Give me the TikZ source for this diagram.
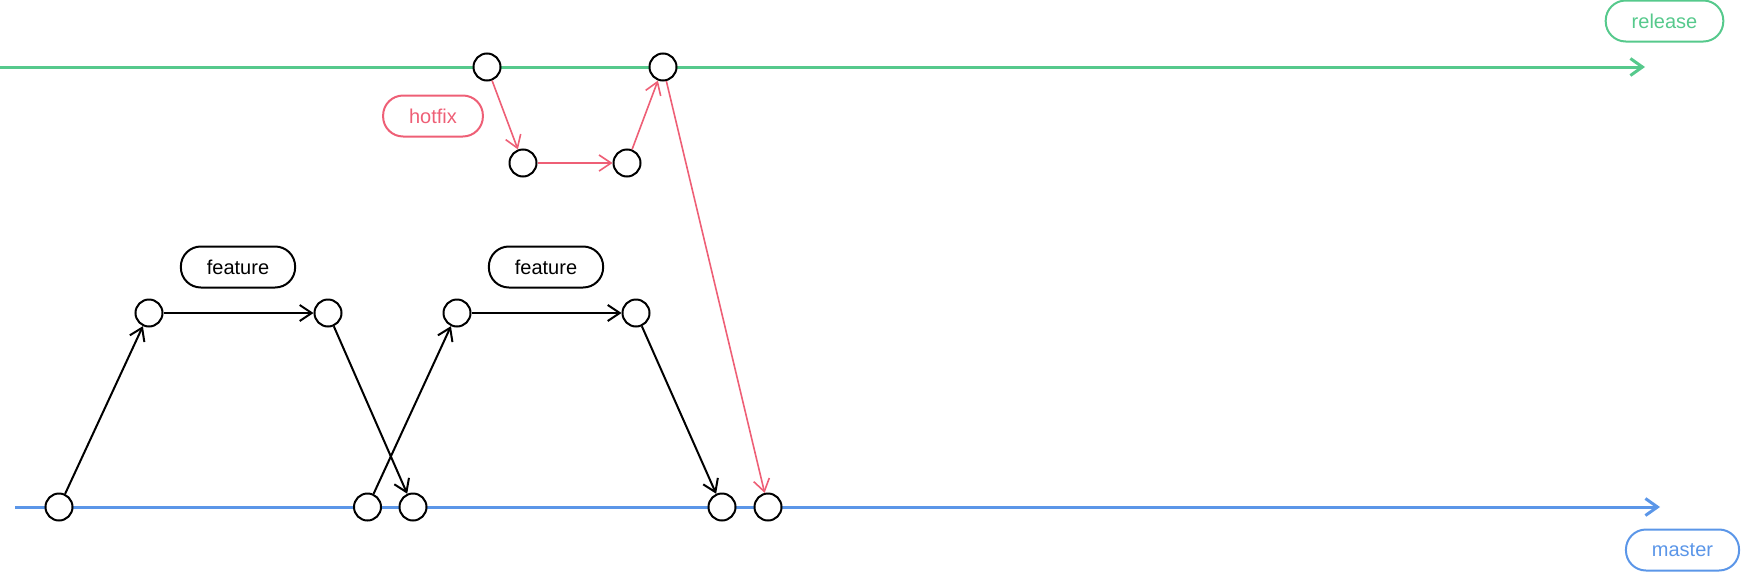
\documentclass[tikz,border=0pt]{standalone}
\usepackage{fontspec}
\setmainfont{Liberation Sans}
\usetikzlibrary{arrows.meta}
\definecolor{relgreen}{RGB}{86,201,140}
\definecolor{masblue}{RGB}{91,150,232}
\definecolor{fixred}{RGB}{238,95,118}

\begin{document}
\begin{tikzpicture}[x=1pt, y=-1pt]
\useasboundingbox (0,0) rectangle (1742,573);
% Define styles
\tikzstyle{commit} = [circle, draw=black, fill=white, line width=2pt, minimum size=27pt, inner sep=0pt]
\tikzstyle{tag} = [rectangle, rounded corners=20pt, draw=black, line width=2pt, minimum height=41pt, inner xsep=26pt, inner ysep=0pt, font=\fontsize{20}{24}\selectfont]
\tikzstyle{branch} = [line width=3pt, -{Straight Barb[length=12pt, width=17pt]}]
\tikzstyle{arrow} = [line width=2pt, -{Straight Barb[length=12pt, width=16pt]}]
\tikzstyle{fix} = [arrow, draw=fixred, line width=1.6pt]
% Branch lines
\coordinate (rs) at (0,67);
\coordinate (re) at (1645,67);
\coordinate (ms) at (15,507);
\coordinate (me) at (1660,507);
\draw [branch, relgreen] (rs) -- (re);
\draw [branch, masblue] (ms) -- (me);
% Place nodes
\node (release) [tag, draw=relgreen, text=relgreen] at (1664.5,21) {release};
\node (master) [tag, draw=masblue, text=masblue] at (1682.5,550) {master};
\node (hotfix) [tag, draw=fixred, text=fixred] at (433,116) {hotfix};
\node (feat1) [tag] at (238,267) {feature};
\node (feat2) [tag] at (546,267) {feature};
\node (m1) [commit] at (59,507) {};
\node (m2) [commit] at (367.5,507) {};
\node (m3) [commit] at (413,507) {};
\node (m4) [commit] at (722,507) {};
\node (m5) [commit] at (768,507) {};
\node (f1) [commit] at (149,313) {};
\node (f2) [commit] at (328,313) {};
\node (f3) [commit] at (457,313) {};
\node (f4) [commit] at (636,313) {};
\node (r1) [commit] at (487,67) {};
\node (r2) [commit] at (663,67) {};
\node (h1) [commit] at (523,163) {};
\node (h2) [commit] at (627,163) {};
% Draw arrows
\draw [arrow] (m1) -- (f1);
\draw [arrow] (f1) -- (f2);
\draw [arrow] (f2) -- (m3);
\draw [arrow] (m2) -- (f3);
\draw [arrow] (f3) -- (f4);
\draw [arrow] (f4) -- (m4);
\draw [fix] (r1) -- (h1);
\draw [fix] (h1) -- (h2);
\draw [fix] (h2) -- (r2);
\draw [fix] (r2) -- (m5);
\end{tikzpicture}
\end{document}
